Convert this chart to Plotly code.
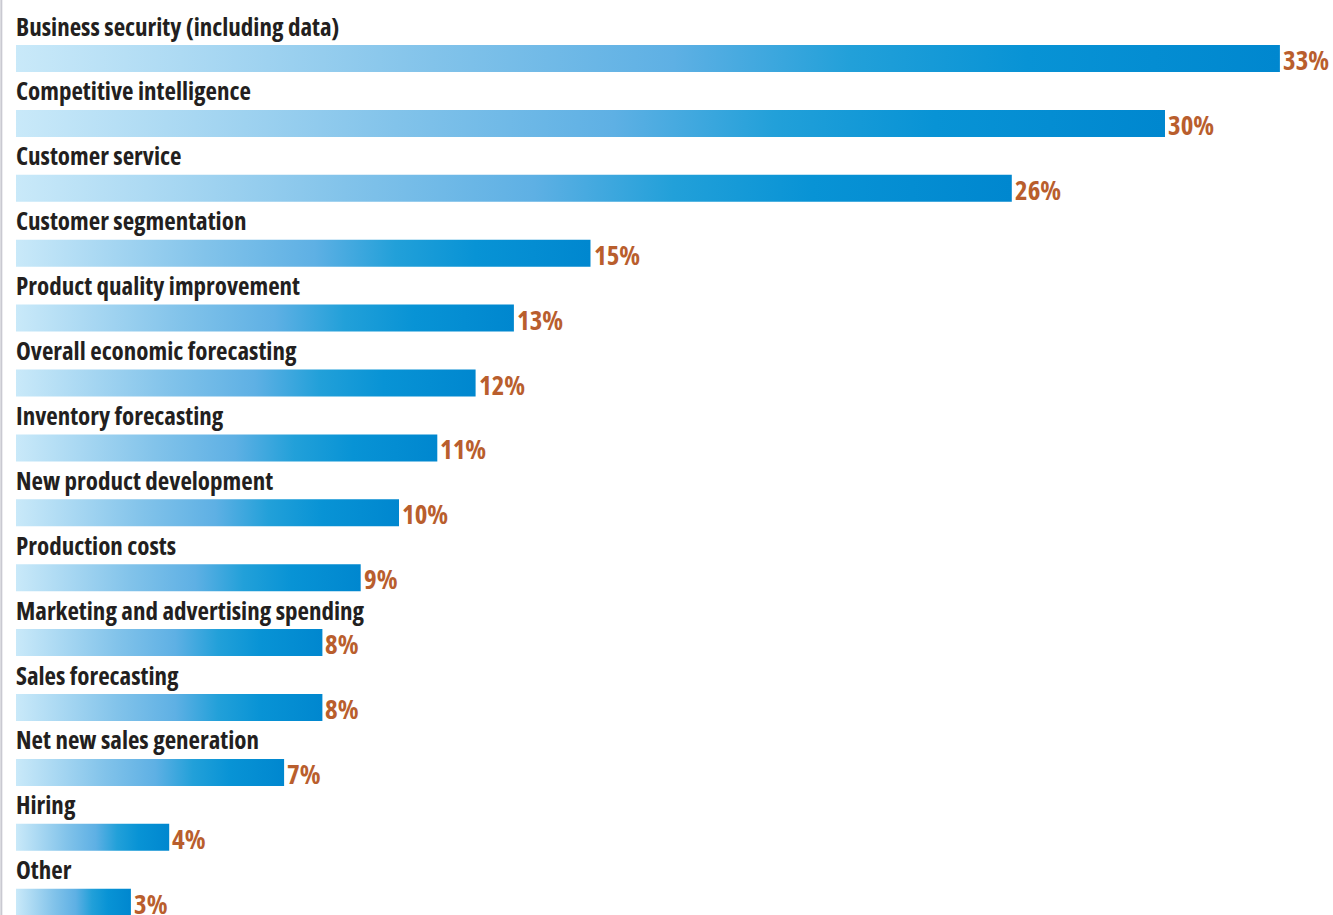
import plotly.graph_objects as go

categories = [
    "Business security (including data)",
    "Competitive intelligence",
    "Customer service",
    "Customer segmentation",
    "Product quality improvement",
    "Overall economic forecasting",
    "Inventory forecasting",
    "New product development",
    "Production costs",
    "Marketing and advertising spending",
    "Sales forecasting",
    "Net new sales generation",
    "Hiring",
    "Other",
]
values = [33, 30, 26, 15, 13, 12, 11, 10, 9, 8, 8, 7, 4, 3]
value_labels = [f"{v}%" for v in values]

W, H = 1333, 915
LEFT_PX = 16
PX_PER_UNIT = 38.3
ROW0_PX = 58.5
ROW_PX = 64.9
BAR_HALF = 13.5 / ROW_PX

FONT = "Open Sans, sans-serif"
TEXT_COLOR = "#231f20"
VALUE_COLOR = "#b95e2d"
GRADIENT = [
    [0.0, "#c9e9f9"],
    [0.33, "#82c3ea"],
    [0.52, "#5eb0e4"],
    [0.66, "#22a0d9"],
    [0.8, "#0893d5"],
    [1.0, "#0087cf"],
]


def condensed(s):
    return f'<span style="font-stretch:75%">{s}</span>'


fig = go.Figure()

for i, (cat, v, lab) in enumerate(zip(categories, values, value_labels)):
    y0, y1 = i - BAR_HALF, i + BAR_HALF
    fig.add_trace(go.Scatter(
        x=[0, v, v, 0, 0],
        y=[y0, y0, y1, y1, y0],
        mode="lines",
        line=dict(width=0),
        fill="toself",
        fillgradient=dict(type="horizontal", colorscale=GRADIENT, start=0, stop=v),
        hoverinfo="skip",
        showlegend=False,
    ))
    fig.add_annotation(
        x=0, y=i, text=condensed(cat), showarrow=False,
        xanchor="left", yanchor="middle", yshift=33, xshift=-2,
        font=dict(family=FONT, size=25, color=TEXT_COLOR, weight="bold"),
    )
    fig.add_annotation(
        x=v, y=i, text=condensed(lab), showarrow=False,
        xanchor="left", yanchor="middle", xshift=1, yshift=-1,
        font=dict(family=FONT, size=27, color=VALUE_COLOR, weight="bold"),
    )

# thin rule along the left edge
fig.add_shape(type="line", xref="paper", yref="paper", x0=0.001, x1=0.001, y0=0, y1=1,
              line=dict(color="#c9c9d1", width=2))

x_lo = -LEFT_PX / PX_PER_UNIT
x_hi = (W - LEFT_PX) / PX_PER_UNIT
y_top = -ROW0_PX / ROW_PX
y_bot = (H - ROW0_PX) / ROW_PX

fig.update_xaxes(range=[x_lo, x_hi], visible=False, fixedrange=True)
fig.update_yaxes(range=[y_bot, y_top], visible=False, fixedrange=True)
fig.update_layout(
    width=W, height=H,
    margin=dict(l=0, r=0, t=0, b=0),
    plot_bgcolor="white", paper_bgcolor="white",
)

fig.write_html("out.html")
